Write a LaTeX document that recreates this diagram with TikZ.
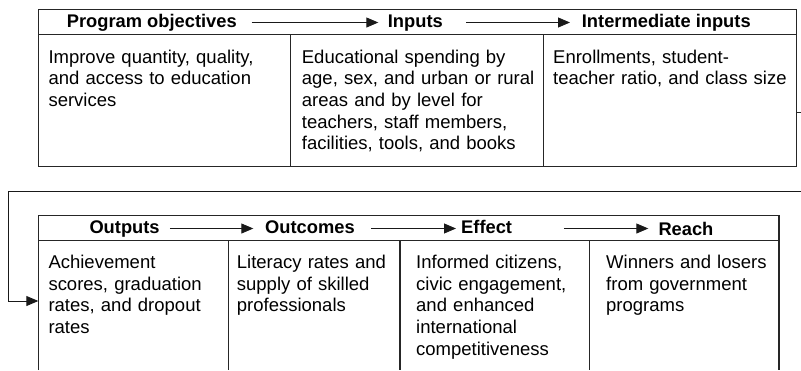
\documentclass[tikz,border=0pt]{standalone}
\usepackage{fontspec}
\setmainfont{Liberation Sans}
\usetikzlibrary{arrows.meta}
\tikzset{
  boxline/.style={draw=black!85, line width=1.1pt},
  hdr/.style={font=\fontsize{18.3}{21.7}\selectfont\bfseries, inner sep=0pt, anchor=base west, text height=13.5pt, text depth=3.9pt},
  body/.style={font=\fontsize{18.5}{21.7}\selectfont, inner sep=0pt, anchor=base west, text width=260pt, align=left},
  arr/.style={draw=black!90, line width=0.9pt, -{Triangle[length=12pt,width=10pt]}},
  plain/.style={draw=black!85, line width=0.9pt}
}
\begin{document}
\begin{tikzpicture}[x=1pt,y=-1pt]
\useasboundingbox (0,0) rectangle (801,370);
% top box
\node[boxline, rectangle, inner sep=0pt, anchor=north west, minimum width=757.7pt, minimum height=156.7pt] (topbox) at (38.3,9) {};
\draw[boxline] (38.3,34.3) -- (796,34.3);
\draw[boxline] (290.7,34.3) -- (290.7,165.7);
\draw[boxline] (543.3,34.3) -- (543.3,165.7);
% bottom box (open at bottom)
\draw[boxline] (38.3,370) -- (38.3,215.3) -- (779,215.3) -- (779,370);
\draw[boxline] (38.3,240.7) -- (779,240.7);
\draw[boxline] (228.3,240.7) -- (228.3,370);
\draw[boxline] (400,240.7) -- (400,370);
\draw[boxline] (589.3,240.7) -- (589.3,370);
% headers top
\node[hdr] (po) at (66.7,27.3) {Program objectives};
\node[hdr] (in) at (387.7,27.3) {Inputs};
\node[hdr] (ii) at (581.7,27.3) {Intermediate inputs};
\draw[arr] ([xshift=14.7pt]po.east) -- ([xshift=-9.4pt]po.east -| in.west);
\draw[arr] ([xshift=23.3pt]in.east) -- ([xshift=-11.7pt]in.east -| ii.west);
% headers bottom
\node[hdr] (op) at (89.3,233.3) {Outputs};
\node[hdr] (oc) at (265,233.3) {Outcomes};
\node[hdr] (ef) at (461,233.3) {Effect};
\node[hdr] (re) at (658.3,235) {Reach};
\draw[arr] ([xshift=10pt]op.east) -- ([xshift=-11.7pt]op.east -| oc.west);
\draw[arr] ([xshift=16.3pt]oc.east) -- ([xshift=-5pt]oc.east -| ef.west);
\draw[arr] ([xshift=51.7pt]ef.east) -- ([xshift=-10pt]ef.east -| re.west);
% body texts top
\node[body] (t1) at (48.3,63) {Improve quantity, quality,\\and access to education\\services};
\node[body] (t2) at (301.7,63) {Educational spending by\\age, sex, and urban or rural\\areas and by level for\\teachers, staff members,\\facilities, tools, and books};
\node[body] (t3) at (553,63) {Enrollments, student-\\teacher ratio, and class size};
% body texts bottom
\node[body] (b1) at (48.3,268.5) {Achievement\\scores, graduation\\rates, and dropout\\rates};
\node[body] (b2) at (236.7,268.5) {Literacy rates and\\supply of skilled\\professionals};
\node[body] (b3) at (416,268.5) {Informed citizens,\\civic engagement,\\and enhanced\\international\\competitiveness};
\node[body] (b4) at (606,268.5) {Winners and losers\\from government\\programs};
% connectors leaving and re-entering
\coordinate (tickend) at (801,112);
\draw[plain] (topbox.east |- tickend) -- (tickend);
\coordinate (loopstart) at (801,191.7);
\coordinate (loopcorner) at (8,191.7);
\coordinate (botin) at (38.3,301);
\draw[arr] (loopstart) -- (loopcorner) |- (botin);
\end{tikzpicture}
\end{document}
